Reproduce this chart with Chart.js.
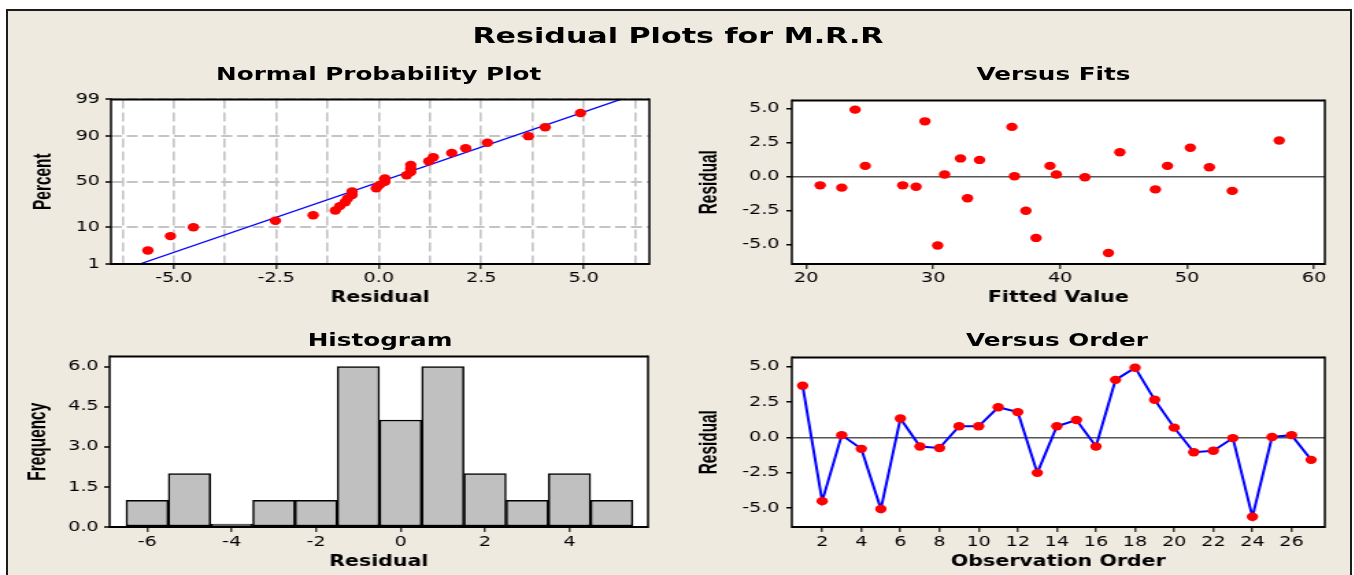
<!DOCTYPE html>
<html>
<head>
<meta charset="utf-8">
<script src="https://cdn.jsdelivr.net/npm/chart.js@4.4.1/dist/chart.umd.min.js"></script>
<style>
  body { margin: 0; background: #fff; width: 1354px; height: 575px; overflow: hidden; position: relative; }
  #frame { position: absolute; left: 6px; top: 9px; width: 1342px; height: 600px; background: #eeeae0;
           border: 2px solid #1c1c1c; border-bottom: none; }
  /* the original graph is stretched sideways, so the whole drawing is too */
  #wrap { position: absolute; left: 0; top: 0; width: 990px; height: 575px; transform: scaleX(1.37); transform-origin: 0 0; }
  .ttl { position: absolute; width: 600px; text-align: center; font-family: "DejaVu Sans", sans-serif;
         font-weight: bold; line-height: 1; white-space: nowrap; color: #000; }
  canvas { position: absolute; }
</style>
</head>
<body>
<div id="frame"></div>
<div id="wrap">
  <div class="ttl" id="t0" style="font-size:22px">Residual Plots for M.R.R</div>
  <div class="ttl" id="t1" style="font-size:18px">Normal Probability Plot</div>
  <div class="ttl" id="t2" style="font-size:18px">Versus Fits</div>
  <div class="ttl" id="t3" style="font-size:18px">Histogram</div>
  <div class="ttl" id="t4" style="font-size:18px">Versus Order</div>
  <canvas id="normal"></canvas>
  <canvas id="fits"></canvas>
  <canvas id="hist"></canvas>
  <canvas id="order"></canvas>
</div>
<script>
// ---- data ----
const observation = [1, 2, 3, 4, 5, 6, 7, 8, 9, 10, 11, 12, 13, 14, 15, 16, 17, 18, 19, 20, 21, 22, 23, 24, 25, 26, 27];
const residuals = [3.65, -4.52, 0.15, -0.82, -5.08, 1.33, -0.65, -0.76, 0.78, 0.78, 2.12, 1.78, -2.52, 0.78,
                   1.22, -0.65, 4.06, 4.92, 2.65, 0.68, -1.06, -0.95, -0.06, -5.63, 0.02, 0.15, -1.6];
const fittedValues = [36.2, 38.1, 30.9, 22.8, 30.35, 32.15, 21.1, 28.65, 24.65, 39.2, 50.25, 44.7, 37.3, 48.45,
                      33.65, 27.6, 29.35, 23.85, 57.25, 51.75, 53.55, 47.5, 41.95, 43.8, 36.4, 39.7, 32.7];
// plotted percent of each sorted residual
const normalPercent = [2.6, 6.2, 9.9, 13.5, 17.2, 20.8, 24.5, 28.1, 31.8, 35.4, 39.1, 42.7, 46.4, 50.0,
                       53.6, 57.3, 60.9, 64.6, 68.2, 71.9, 75.5, 79.2, 82.8, 86.5, 90.1, 93.8, 97.4];
// ends of the blue reference line
const normalLineX = [-5.83, 5.9];
const normalLinePct = [1, 99];
const histBins = [-6, -5, -4, -3, -2, -1, 0, 1, 2, 3, 4, 5];
const histCounts = [1, 2, 0, 1, 1, 6, 4, 6, 2, 1, 2, 1];

// ---- tick labels ----
const pctTicks = [1, 10, 50, 90, 99];
const normalXTicks = [-6.25, -5, -3.75, -2.5, -1.25, 0, 1.25, 2.5, 3.75, 5, 6.25];
const residTicks = [-5, -2.5, 0, 2.5, 5];
const fitsXTicks = [20, 30, 40, 50, 60];
const freqTicks = [0, 1.5, 3, 4.5, 6];
const histXTicks = [-6, -4, -2, 0, 2, 4];
const orderXTicks = [2, 4, 6, 8, 10, 12, 14, 16, 18, 20, 22, 24, 26];

const S = 1.37;              // sideways stretch of the picture
const AW = 80, PT = 12, PR = 10, XH = 50;
const tickFont = { family: 'DejaVu Sans', size: 14 };

// inverse normal cdf, for the probability axis
function probit(p) {
  const a = [-39.69683028665376, 220.9460984245205, -275.9285104469687, 138.357751867269, -30.66479806614716, 2.506628277459239];
  const b = [-54.47609879822406, 161.5858368580409, -155.6989798598866, 66.80131188771972, -13.28068155288572];
  const c = [-0.007784894002430293, -0.3223964580411365, -2.400758277161838, -2.549732539343734, 4.374664141464968, 2.938163982698783];
  const d = [0.007784695709041462, 0.3224671290700398, 2.445134137142996, 3.754408661907416];
  const lo = 0.02425;
  if (p < lo || p > 1 - lo) {
    const q = Math.sqrt(-2 * Math.log(p < lo ? p : 1 - p));
    const v = (((((c[0]*q + c[1])*q + c[2])*q + c[3])*q + c[4])*q + c[5]) / ((((d[0]*q + d[1])*q + d[2])*q + d[3])*q + 1);
    return p < lo ? v : -v;
  }
  const q = p - 0.5, r = q * q;
  return (((((a[0]*r + a[1])*r + a[2])*r + a[3])*r + a[4])*r + a[5])*q / (((((b[0]*r + b[1])*r + b[2])*r + b[3])*r + b[4])*r + 1);
}

// titles, positions in picture pixels
function title(id, cx, top) {
  const el = document.getElementById(id);
  el.style.left = (cx / S - 300) + 'px';
  el.style.top = top + 'px';
}
title('t0', 678, 25.4);
title('t1', 378.7, 64.6);
title('t2', 1053.5, 64.6);
title('t3', 380, 331.3);
title('t4', 1057, 331.3);

// put a canvas so that its plot box lands on the given picture rectangle
function mount(id, area) {
  const cv = document.getElementById(id);
  const l = area.l / S, r = area.r / S;
  cv.width = Math.round(r - l + AW + PR);
  cv.height = Math.round(area.b - area.t + PT + XH);
  cv.style.left = (l - AW) + 'px';
  cv.style.top = (area.t - PT) + 'px';
  return { cv, offX: l - AW };
}

// white plot box, frame and the narrow rotated y title
const panelPlugin = {
  id: 'panel',
  beforeDraw(chart) {
    const a = chart.chartArea, ctx = chart.ctx;
    ctx.save();
    ctx.fillStyle = '#fff';
    ctx.fillRect(a.left, a.top, a.right - a.left, a.bottom - a.top);
    ctx.restore();
  },
  afterDraw(chart, args, opts) {
    const a = chart.chartArea, ctx = chart.ctx;
    ctx.save();
    ctx.strokeStyle = '#000';
    ctx.lineWidth = 2;
    ctx.beginPath();
    ctx.moveTo(a.left, a.top); ctx.lineTo(a.right, a.top);
    ctx.moveTo(a.left, a.bottom); ctx.lineTo(a.right, a.bottom);
    ctx.stroke();
    ctx.lineWidth = 1.5;
    ctx.beginPath();
    ctx.moveTo(a.left, a.top - 1); ctx.lineTo(a.left, a.bottom + 1);
    ctx.moveTo(a.right, a.top - 1); ctx.lineTo(a.right, a.bottom + 1);
    ctx.stroke();
    ctx.translate(opts.x, (a.top + a.bottom) / 2);
    ctx.rotate(-Math.PI / 2);
    ctx.scale(0.88, 1);
    ctx.fillStyle = '#000';
    ctx.font = 'bold 17.5px "Liberation Sans", Arial, sans-serif';
    ctx.textAlign = 'center';
    ctx.textBaseline = 'middle';
    ctx.fillText(opts.text, 0, 0);
    ctx.restore();
  }
};

function xScale(o) {
  return {
    type: 'linear', position: 'bottom', min: o.min, max: o.max, offset: false,
    afterBuildTicks: s => { s.ticks = o.ticks.map(v => ({ value: v })); },
    afterFit: s => { s.height = XH; },
    ticks: { color: '#000', font: tickFont, padding: o.pad, maxRotation: 0, autoSkip: false, callback: o.fmt },
    grid: { offset: false, drawOnChartArea: !!o.grid, color: o.grid || 'transparent', lineWidth: 1.6,
            tickLength: 5, tickWidth: 1.1, tickColor: o.tickColor || '#000' },
    border: { display: false, dash: o.dash || [] },
    title: { display: true, text: o.title, color: '#000',
             font: { family: 'DejaVu Sans', weight: 'bold', size: 15 }, padding: { top: 0, bottom: o.tpad } }
  };
}

function yScale(o) {
  return {
    type: 'linear', position: 'left', min: o.min, max: o.max,
    afterBuildTicks: s => { s.ticks = o.ticks.map(v => ({ value: v })); },
    afterFit: s => { s.width = AW; },
    ticks: { color: '#000', font: tickFont, padding: o.pad, autoSkip: false, callback: o.fmt },
    grid: { drawOnChartArea: true, color: o.grid || 'transparent', lineWidth: o.lw || 2,
            tickLength: 4, tickWidth: 1.5, tickColor: '#000' },
    border: { display: false, dash: o.dash || [] },
    title: { display: false }
  };
}

function baseOptions(yTitle, yTitleX, offX, scales) {
  return {
    responsive: false, animation: false, events: [],
    layout: { padding: { top: PT, right: PR, left: 0, bottom: 0 } },
    plugins: { legend: { display: false }, tooltip: { enabled: false },
               panel: { text: yTitle, x: yTitleX / S - offX } },
    scales
  };
}

const one = v => v.toFixed(1);
const whole = v => String(v);
const onStep = v => Math.abs(v / 2.5 - Math.round(v / 2.5)) < 1e-9;

// ---- Normal Probability Plot ----
const sorted = residuals.slice().sort((p, q) => p - q);
let m = mount('normal', { l: 111, r: 650, t: 98.5, b: 263 });
new Chart(m.cv, {
  type: 'scatter',
  plugins: [panelPlugin],
  data: {
    datasets: [
      { data: sorted.map((r, i) => ({ x: r, y: probit(normalPercent[i] / 100) })),
        pointRadius: 4.2, pointBackgroundColor: '#ff0000', pointBorderWidth: 0, order: 0 },
      { data: normalLineX.map((x, i) => ({ x, y: probit(normalLinePct[i] / 100) })),
        showLine: true, pointRadius: 0, borderColor: '#0000ff', borderWidth: 1.3, order: 1 }
    ]
  },
  options: baseOptions('Percent', 44, m.offX, {
    x: xScale({ min: -6.53, max: 6.6, ticks: normalXTicks, pad: 1, tpad: 7, title: 'Residual',
                fmt: v => onStep(v) ? v.toFixed(1) : '', grid: '#c4c4c4', dash: [9, 4],
                tickColor: c => onStep(c.tick.value) ? '#000' : 'transparent' }),
    y: yScale({ min: probit(0.01), max: probit(0.99), ticks: pctTicks.map(p => probit(p / 100)), pad: 4,
                fmt: (v, i) => String(pctTicks[i]), grid: '#c4c4c4', dash: [8, 3.5], lw: 2 })
  })
});

// ---- Versus Fits ----
m = mount('fits', { l: 792, r: 1325.5, t: 98.5, b: 263 });
new Chart(m.cv, {
  type: 'scatter',
  plugins: [panelPlugin],
  data: {
    datasets: [
      { data: fittedValues.map((f, i) => ({ x: f, y: residuals[i] })),
        pointRadius: 4.2, pointBackgroundColor: '#ff0000', pointBorderWidth: 0 }
    ]
  },
  options: baseOptions('Residual', 710.5, m.offX, {
    x: xScale({ min: 18.87, max: 60.84, ticks: fitsXTicks, pad: 1, tpad: 7, title: 'Fitted Value', fmt: whole }),
    y: yScale({ min: -6.44, max: 5.6, ticks: residTicks, pad: 5, fmt: one, lw: 1.5,
                grid: c => c.tick && c.tick.value === 0 ? '#555' : 'transparent' })
  })
});

// ---- Histogram ----
m = mount('hist', { l: 110, r: 649, t: 356, b: 527 });
new Chart(m.cv, {
  type: 'bar',
  plugins: [panelPlugin],
  data: {
    datasets: [
      { data: histBins.map((b, i) => ({ x: b, y: histCounts[i] })),
        backgroundColor: '#c0c0c0', borderColor: '#000', borderWidth: 1.5, borderSkipped: false,
        barPercentage: 1, categoryPercentage: 1, minBarLength: 3 }
    ]
  },
  options: baseOptions('Frequency', 39, m.offX, {
    x: xScale({ min: -6.89, max: 5.86, ticks: histXTicks, pad: 2, tpad: 6, title: 'Residual', fmt: whole }),
    y: yScale({ min: 0, max: 6.38, ticks: freqTicks, pad: 4, fmt: one })
  })
});

// ---- Versus Order ----
m = mount('order', { l: 792, r: 1325.5, t: 356, b: 527 });
new Chart(m.cv, {
  type: 'scatter',
  plugins: [panelPlugin],
  data: {
    datasets: [
      { data: observation.map((o, i) => ({ x: o, y: residuals[i] })),
        showLine: true, borderColor: '#0000ff', borderWidth: 2,
        pointRadius: 4.2, pointBackgroundColor: '#ff0000', pointBorderWidth: 0 }
    ]
  },
  options: baseOptions('Residual', 710.5, m.offX, {
    x: xScale({ min: 0.45, max: 27.7, ticks: orderXTicks, pad: 2, tpad: 6, title: 'Observation Order', fmt: whole }),
    y: yScale({ min: -6.35, max: 5.65, ticks: residTicks, pad: 5, fmt: one, lw: 1.5,
                grid: c => c.tick && c.tick.value === 0 ? '#555' : 'transparent' })
  })
});
</script>
</body>
</html>
